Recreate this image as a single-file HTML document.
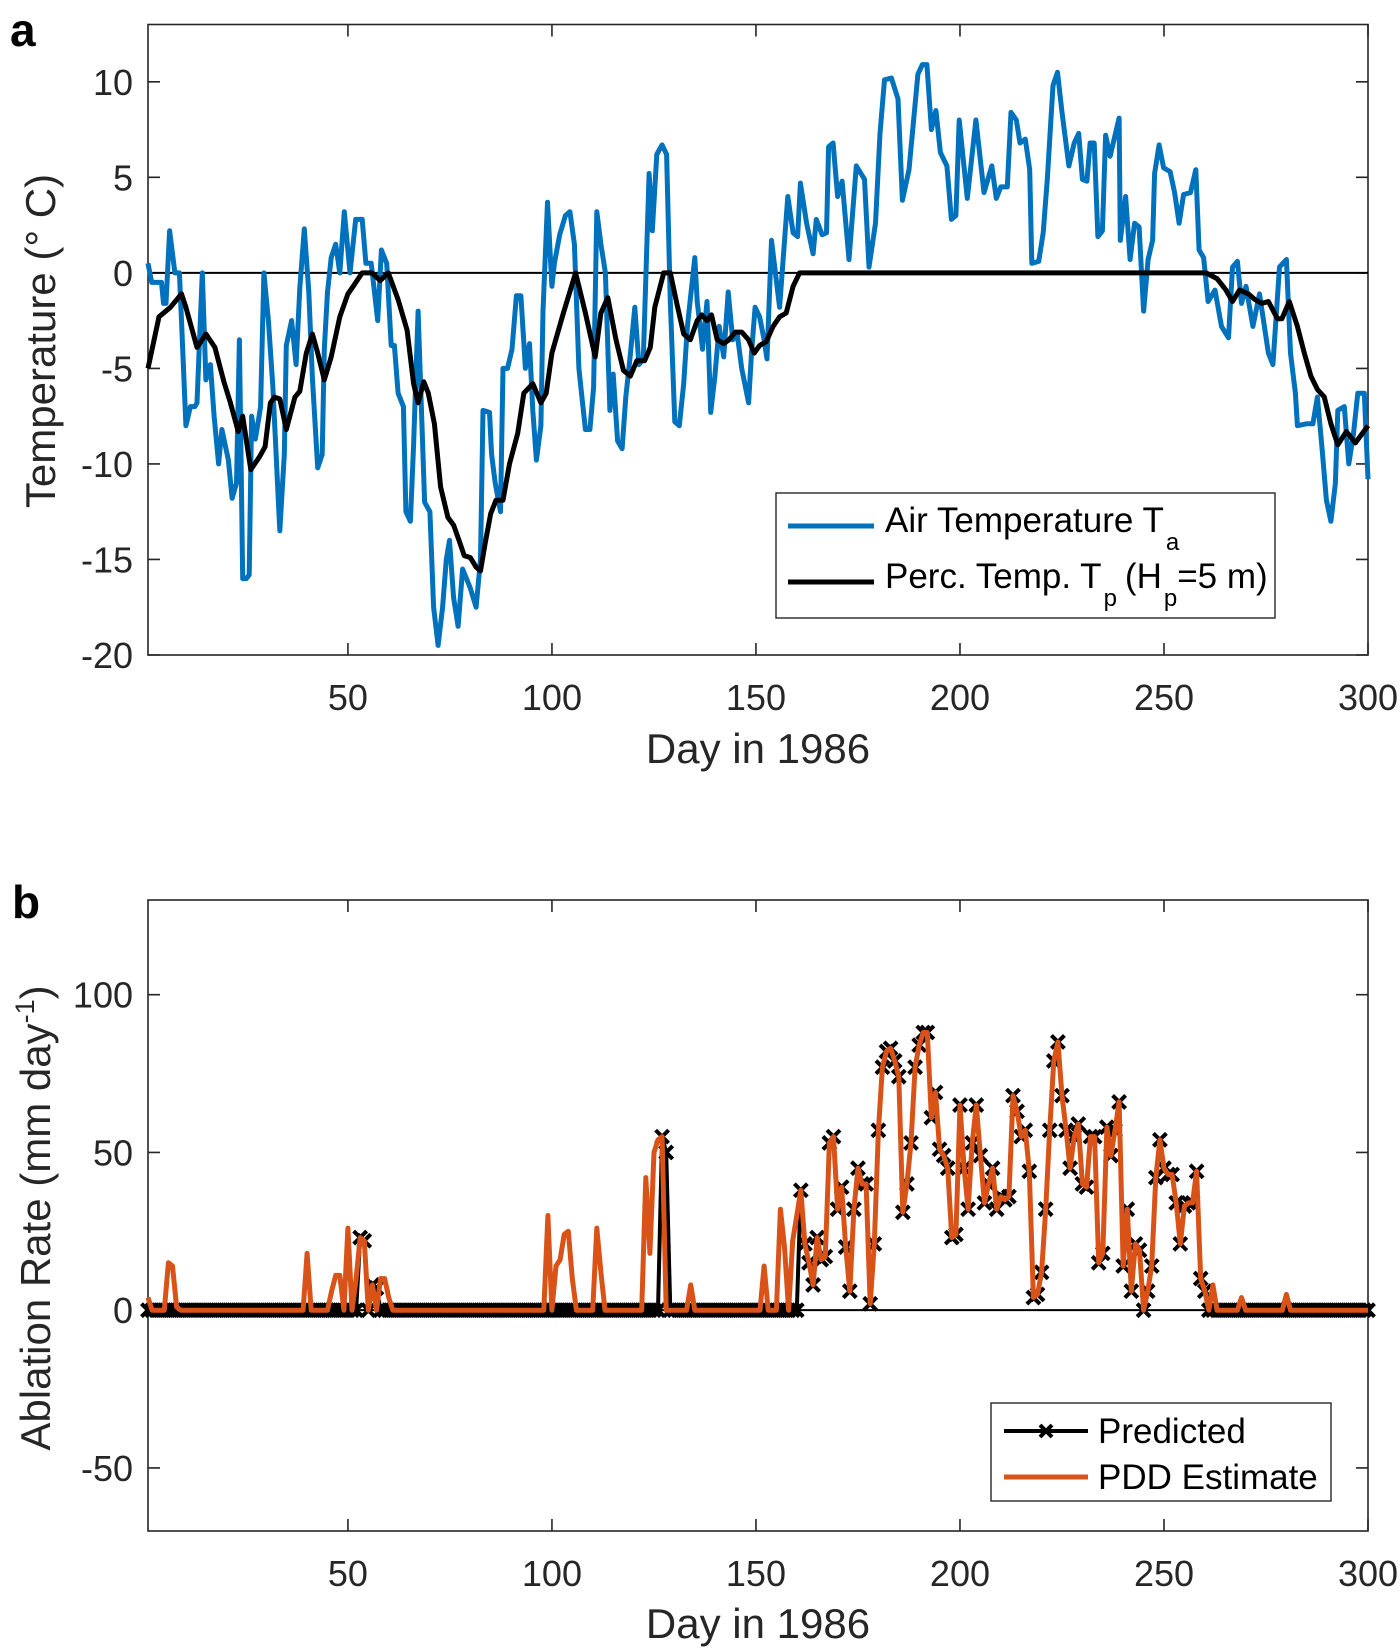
<!DOCTYPE html>
<html><head><meta charset="utf-8"><style>
html,body{margin:0;padding:0;background:#fff;}
svg{display:block;font-family:"Liberation Sans",Arial,sans-serif;}
</style></head><body>
<svg id="fig" width="1400" height="1648" viewBox="0 0 1400 1648" xmlns="http://www.w3.org/2000/svg">
<text x="10" y="46" font-size="46" font-weight="bold">a</text>
<text x="12" y="918" font-size="46" font-weight="bold">b</text>
<g id="pa"></g>
<g id="pb"></g>
</svg>
<script>
// ---------- data ----------
const xTicks = [50,100,150,200,250,300];
const aYTicks = [-20,-15,-10,-5,0,5,10];
const bYTicks = [-50,0,50,100];

const airDays = [1,1.9,4.3,4.8,5.4,6.3,7.6,8.7,9.2,10.3,11.4,12.5,13,14.3,15.2,16.3,17.2,18.3,19.1,20.7,21.6,22.7,23.4,24.2,25.1,25.8,26.4,27.3,28,28.6,29.4,30.5,31.6,33.3,34.4,34.9,36.2,37.3,38.2,39.3,40.4,41.3,42.6,43.7,44.2,45,45.9,47,48,49.1,50.5,51.9,53.5,54.4,55.7,57.3,58.2,59.5,60.6,61.4,62.3,63.6,64.2,65.3,66.1,67.2,68.8,70.1,71,72.1,73.2,74.1,74.9,75.9,77,78.1,80,81.4,82.5,83.1,84.7,85.2,86.1,87.4,88,89.1,90.2,91.3,92.4,93.5,94.5,95.3,96.2,97.3,97.8,98.9,100,100.6,101.9,103.3,104.4,105.5,106.6,107.1,108.2,109.3,110.2,111,112,113.1,114.2,115,116.1,117.2,118.1,119.2,120.3,121.3,122.4,123.8,124.6,125.7,127,128.1,129,130.1,131.2,132.3,133.2,135,135.6,136.4,136.9,138,138.9,139.9,141,142.1,143.2,144.3,145.4,146.5,148.2,148.9,149.8,150.9,152,152.7,153.8,155.8,157.8,159.1,160.2,160.9,162.4,164,164.8,166.2,167.3,167.8,168.9,170,171.1,172.8,174.6,176.6,177.7,179.3,180.4,181.5,183.2,184.8,185.9,187.5,189.7,190.8,191.9,193,194.1,195.2,196.8,197.9,199,199.8,201.8,203.9,205.9,207.8,208.9,210,211.6,212.5,213.8,214.7,216,217.1,217.6,219.3,220.4,221.4,222.8,223.9,225,226.7,228,229.1,230,231.1,231.9,232.9,233.8,234.9,235.7,236.8,239,239.3,240.6,241.7,242.8,243.9,245,246.1,247.2,247.7,248.8,249.9,251.5,252.6,253.7,254.8,256.5,257.8,258.6,259.7,260.8,262.5,264.1,265.8,266.8,268,269,270.1,271.8,273.4,275.6,276.7,278.3,280,281,282.2,282.7,284.9,286.5,287.6,288.7,289.8,290.9,292,292.6,294.2,295.3,296.4,297.5,299.1,300];
const airVals = [0.5,-0.5,-0.5,-1.6,-1.6,2.2,0,0,-2.5,-8,-7,-7,-6.8,0,-5.6,-4.8,-7.5,-10,-8.2,-9.8,-11.8,-11,-3.5,-16,-16,-15.8,-7.5,-8.7,-7.8,-7,0,-2.5,-6,-13.5,-9.5,-3.8,-2.5,-4.8,-0.8,2.3,-1,-5.5,-10.2,-9.5,-4,-1,0.8,1.5,0,3.2,0,2.8,2.8,0.5,0.5,-2.5,1.2,0.5,-3.8,-3.8,-6.3,-7,-12.5,-13,-9,-2,-12,-12.5,-17.5,-19.5,-17.5,-15,-14,-17,-18.5,-15.5,-16.5,-17.5,-15,-7.2,-7.3,-9.5,-11,-12.5,-5,-5,-4,-1.2,-1.2,-5,-3.7,-7.2,-9.8,-8,-2,3.7,-0.7,0.5,2,3,3.2,1.5,-5,-6,-8.2,-8.2,-6,3.2,1.5,0,-7.2,-5.3,-8.8,-9.2,-6.5,-4.3,-1.8,-4.8,-4.5,5.2,2.2,6.2,6.7,6.2,-1.5,-7.8,-8,-5.8,-2.8,0.8,-1.5,-3,-4,-1.5,-7.3,-5.5,-2.8,-4.4,-1,-3.5,-3.2,-5,-6.8,-4.2,-1.8,-2.3,-3.5,-4.5,1.7,-1.8,4,2.1,1.9,4.7,2.6,1,2.8,2,2.1,6.6,6.8,4,4.8,0.7,5.6,4.9,0.3,2.6,7.3,10.1,10.2,9.1,3.8,5.4,10.4,10.9,10.9,7.5,8.5,6.3,5.6,2.8,3,8,3.9,8,4.2,5.6,3.9,4.5,4.5,8.4,8,6.8,7,5.4,0.5,0.6,2.1,4.9,9.8,10.5,8.4,5.6,6.8,7.3,4.9,4.8,6.8,6.8,1.9,2.2,7.2,6.1,8.1,1.7,4,0.7,2.6,2.4,-2,0.7,1.7,5.2,6.7,5.5,5.3,4.2,2.6,4.1,4.2,5.4,1.2,0.8,-1.5,-0.9,-2.8,-3.4,0.3,0.6,-1.6,-0.7,-2.8,-1.1,-4.2,-4.8,0.3,0.7,-4.2,-6.3,-8,-7.9,-7.9,-6.5,-9.1,-11.9,-13,-11,-7.2,-7,-10,-8.5,-6.3,-6.3,-10.8];

const percDays = [1,3.7,6.5,9.2,10.3,13,15.2,17.4,19.6,21.2,23.1,24.2,26.2,28.4,29.7,31,32,33.3,34.9,37,38.2,39.8,41.3,42.6,44.2,45.9,48,50,51.3,53.5,55.9,57.9,59.9,62.3,64.5,66.1,67.2,68.6,69.7,71.2,72.7,74.5,75.9,77.4,78.5,80,81.4,82.5,83.6,85,86.3,88,89.6,91.6,93.1,95.3,97.3,98.6,100,102.8,105.8,108.2,110.6,112,113.7,115.7,117.5,119.2,120.8,122.7,124.1,125.2,127.4,129,130.6,132.3,133.9,135.6,136.7,138,139.1,140.5,142.1,143.4,144.9,146.5,148.2,149.6,150.9,152.5,154.2,155.8,157.4,159.1,160.7,260.3,263,265.2,266.8,268.5,270.7,272.3,274,275.6,277.8,278.9,280.7,282.7,284.4,286,287.6,289.3,290.9,292.6,294.7,296.9,300];
const percVals = [-5,-2.3,-1.8,-1.1,-1.8,-3.9,-3.2,-3.9,-5.7,-6.8,-8.3,-7.5,-10.3,-9.6,-9.1,-6.8,-6.5,-6.6,-8.2,-6.5,-6.2,-4.2,-3.2,-4.2,-5.6,-4.4,-2.3,-1.1,-0.7,0,0,-0.4,0,-1.4,-3,-5.8,-6.8,-5.7,-6.3,-7.9,-11.2,-12.8,-13.2,-14.1,-14.8,-14.9,-15.4,-15.6,-14.2,-12.6,-11.9,-11.9,-10,-8.4,-6.3,-5.8,-6.8,-6.3,-4.2,-2.1,0,-2.1,-4.4,-2.1,-1.3,-3.5,-5.1,-5.4,-4.6,-4.6,-3.9,-1.8,0,0,-1.6,-3.2,-3.5,-2.5,-2.2,-2.5,-2.2,-3.5,-3.7,-3.5,-3.1,-3.1,-3.5,-4.2,-3.8,-3.6,-2.8,-2.3,-2.1,-0.7,0,0,-0.3,-0.9,-1.5,-0.9,-1.1,-1.4,-1.6,-1.5,-2.4,-2.4,-1.5,-2.8,-4.2,-5.4,-6.1,-6.5,-7.9,-9,-8.3,-8.9,-8];

// daily ablation, days 1..300
const pddVals = [
4,0,0,0,0,15,14,1,0,0, 0,0,0,0,0,0,0,0,0,0, 0,0,0,0,0,0,0,0,0,0, 0,0,0,0,0,0,0,0,0,18,
0,0,0,0,0,6,11,11,0,26, 0,10,23,22,0,8,0,10,10,4, 0,0,0,0,0,0,0,0,0,0, 0,0,0,0,0,0,0,0,0,0,
0,0,0,0,0,0,0,0,0,0, 0,0,0,0,0,0,0,0,30,0, 14,16,24,25,10,0,0,0,0,0, 26,12,0,0,0,0,0,0,0,0,
0,0,42,18,50,54,55,0,0,0, 0,0,0,8,0,0,0,0,0,0, 0,0,0,0,0,0,0,0,0,0, 0,14,0,0,0,32,20,0,22,30,
38,21,15,8,23,16,17,53,55,32, 39,20,6,32,45,40,40,2,21,57, 77,82,83,79,74,31,40,53,77,84, 88,88,61,69,51,49,45,23,24,65,
45,32,53,65,49,34,40,45,32,36, 35,36,68,63,55,57,44,4,5,12, 32,57,79,85,68,57,45,55,59,40, 39,55,55,15,18,58,49,57,66,14,
32,6,21,19,0,6,14,42,54,45, 43,43,34,21,33,34,34,44,10,6, 0,8,0,0,0,0,0,0,4,0, 0,0,0,0,0,0,0,0,0,5,
0,0,0,0,0,0,0,0,0,0, 0,0,0,0,0,0,0,0,0,0];
const predVals = [
0,0,0,0,0,0,0,0,0,0, 0,0,0,0,0,0,0,0,0,0, 0,0,0,0,0,0,0,0,0,0, 0,0,0,0,0,0,0,0,0,0,
0,0,0,0,0,0,0,0,0,0, 0,0,23,22,0,8,7,0,0,0, 0,0,0,0,0,0,0,0,0,0, 0,0,0,0,0,0,0,0,0,0,
0,0,0,0,0,0,0,0,0,0, 0,0,0,0,0,0,0,0,0,0, 0,0,0,0,0,0,0,0,0,0, 0,0,0,0,0,0,0,0,0,0,
0,0,0,0,0,0,55,50,0,0, 0,0,0,0,0,0,0,0,0,0, 0,0,0,0,0,0,0,0,0,0, 0,0,0,0,0,0,0,0,0,0,
38,21,15,8,23,16,17,53,55,32, 39,20,6,32,45,40,40,2,21,57, 77,82,83,79,74,31,40,53,77,84, 88,88,61,69,51,49,45,23,24,65,
45,32,53,65,49,34,40,45,32,36, 35,36,68,63,55,57,44,4,5,12, 32,57,79,85,68,57,45,55,59,40, 39,55,55,15,18,58,49,57,66,14,
32,6,21,19,0,6,14,42,54,45, 43,43,34,21,33,34,34,44,10,6, 0,0,0,0,0,0,0,0,0,0, 0,0,0,0,0,0,0,0,0,0,
0,0,0,0,0,0,0,0,0,0, 0,0,0,0,0,0,0,0,0,0];

// ---------- drawing ----------
const NS = "http://www.w3.org/2000/svg";
function mk(tag, attrs, parent){ const e=document.createElementNS(NS,tag); for(const k in attrs) e.setAttribute(k,attrs[k]); parent.appendChild(e); return e; }
const L=148, R=1368;
const X = d => L + (d-1)*(R-L)/299;
function yScale(top,bot,lo,hi){ return v => bot - (v-lo)*(bot-top)/(hi-lo); }
const Ya = yScale(24.5,655,-20,13);
const Yb = yScale(900,1531,-70,130);

function pathD(xs, ys, Y){ return xs.map((d,i)=>(i?'L':'M')+X(d).toFixed(1)+' '+Y(ys[i]).toFixed(1)).join(' '); }

function axes(g, top, bot, Y, yt, labY, titY, prefix){
  const box = mk('rect',{x:L,y:top,width:R-L,height:bot-top,fill:'none',stroke:'#262626','stroke-width':1.6},g);
  
  
  xTicks.forEach(t=>{
    const tk = mk('path',{d:`M${X(t)} ${bot}v-12M${X(t)} ${top}v12`,stroke:'#262626','stroke-width':1.6},g);
    
    
    const tl = mk('text',{x:X(t),y:labY,'font-size':36,'text-anchor':'middle',fill:'#262626'},g);
    tl.textContent=t;
    
    
  });
  yt.forEach(t=>{
    const tk = mk('path',{d:`M${L} ${Y(t)}h12M${R} ${Y(t)}h-12`,stroke:'#262626','stroke-width':1.6},g);
    
    
    const tl = mk('text',{x:133,y:Y(t)+13,'font-size':36,'text-anchor':'end',fill:'#262626'},g);
    tl.textContent=t;
    
    
  });
  const xt = mk('text',{x:(L+R)/2,y:titY,'font-size':42,'text-anchor':'middle',fill:'#262626'},g);
  xt.textContent='Day in 1986';
  
  
  const z = mk('line',{x1:L,x2:R,y1:Y(0),y2:Y(0),stroke:'#000','stroke-width':2},g);
  
  
}

// Panel a
const pa=document.getElementById('pa');
axes(pa,24.5,655,Ya,aYTicks,710,763,'panel-a');
const yta = mk('text',{transform:'translate(55 341) rotate(-90)','font-size':42,'text-anchor':'middle',fill:'#262626'},pa);
yta.textContent='Temperature (° C)';


const airLine = mk('path',{d:pathD(airDays,airVals,Ya),fill:'none',stroke:'#0072BD','stroke-width':5,'stroke-linejoin':'round'},pa);


const percLine = mk('path',{d:pathD(percDays,percVals,Ya),fill:'none',stroke:'#000','stroke-width':5,'stroke-linejoin':'round'},pa);



// legend a
const lga = mk('g',{},pa);


mk('rect',{x:776,y:493,width:499,height:125,fill:'#fff',stroke:'#262626','stroke-width':1.4},lga);
mk('line',{x1:788,x2:874,y1:526,y2:526,stroke:'#0072BD','stroke-width':5},lga);
mk('line',{x1:788,x2:874,y1:582,y2:582,stroke:'#000','stroke-width':5},lga);
const la1 = mk('text',{x:885,y:532,'font-size':35,fill:'#000'},lga);
la1.innerHTML='Air Temperature T<tspan dx="2" dy="18" font-size="24">a</tspan>';


const la2 = mk('text',{x:885,y:588,'font-size':35,fill:'#000'},lga);
la2.innerHTML='Perc. Temp. T<tspan dx="2" dy="18" font-size="24">p</tspan><tspan dx="8" dy="-18">(H</tspan><tspan dx="2" dy="18" font-size="24">p</tspan><tspan dy="-18">=5 m)</tspan>';



// Panel b
const pb=document.getElementById('pb');
axes(pb,900,1531,Yb,bYTicks,1586,1638,'panel-b');
const ytb = mk('text',{transform:'translate(50 1218) rotate(-90)','font-size':42,'text-anchor':'middle',fill:'#262626'},pb);
ytb.innerHTML='Ablation Rate (mm day<tspan dy="-16" font-size="27">-1</tspan><tspan dy="16">)</tspan>';


const days = predVals.map((v,i)=>i+1);
const predLine = mk('path',{d:pathD(days,predVals,Yb),fill:'none',stroke:'#000','stroke-width':4,'stroke-linejoin':'round'},pb);


const mg = mk('g',{stroke:'#000','stroke-width':4,fill:'none'},pb);


predVals.forEach((v,i)=>{
  const cx=X(i+1), cy=Yb(v), s=6.5;
  const m = mk('path',{d:`M${cx-s} ${cy-s}L${cx+s} ${cy+s}M${cx-s} ${cy+s}L${cx+s} ${cy-s}`},mg);
  
  
});
const pddLine = mk('path',{d:pathD(days,pddVals,Yb),fill:'none',stroke:'#D95319','stroke-width':5,'stroke-linejoin':'round'},pb);



// legend b
const lgb = mk('g',{},pb);


mk('rect',{x:991,y:1403,width:340,height:98,fill:'#fff',stroke:'#262626','stroke-width':1.4},lgb);
mk('line',{x1:1004,x2:1088,y1:1431,y2:1431,stroke:'#000','stroke-width':4},lgb);
mk('path',{d:'M1040 1425l12 12M1040 1437l12 -12',stroke:'#000','stroke-width':4},lgb);
mk('line',{x1:1004,x2:1088,y1:1477,y2:1477,stroke:'#D95319','stroke-width':5},lgb);
const lb1 = mk('text',{x:1098,y:1443,'font-size':35,fill:'#000'},lgb);
lb1.textContent='Predicted';


const lb2 = mk('text',{x:1098,y:1489,'font-size':35,fill:'#000'},lgb);
lb2.textContent='PDD Estimate';


</script>
</body></html>
